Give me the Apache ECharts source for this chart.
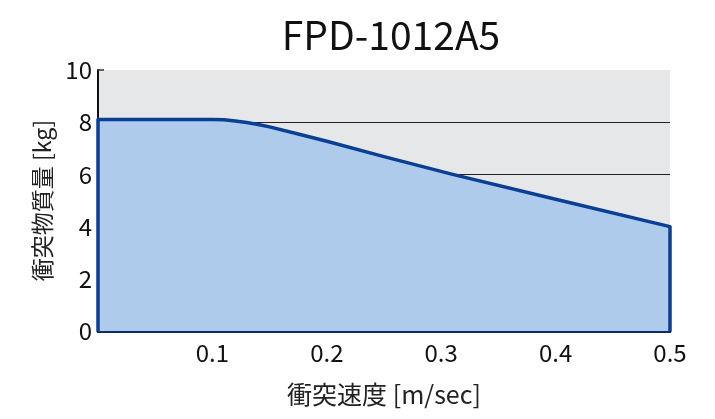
<!DOCTYPE html>
<html><head><meta charset="utf-8">
<script src="https://cdn.jsdelivr.net/npm/echarts@6/dist/echarts.min.js"></script>
<style>html,body{margin:0;padding:0;background:#fff}#c{width:715px;height:419px}</style>
</head><body><div id="c"></div>
<script>
const titleText = 'FPD-1012A5';
const xName = '衝突速度 [m/sec]';
const yName = '衝突物質量 [kg]';
const speed = [0, 0, 0.1, 0.11, 0.12, 0.13, 0.14, 0.15, 0.175, 0.2, 0.25, 0.31, 0.4, 0.5, 0.5];
const mass  = [0, 8.1, 8.1, 8.09, 8.05, 7.99, 7.91, 7.82, 7.55, 7.27, 6.68, 6.0, 5.05, 4.0, 0];
const FONT = '"Noto Sans CJK JP", "Noto Sans", sans-serif';
const chart = echarts.init(document.getElementById('c'));
chart.setOption({
  animation: false,
  title: { text: titleText, left: 386, top: 11, textAlign: 'center',
    textStyle: { fontFamily: FONT, fontSize: 39, fontWeight: 'normal', color: '#111' } },
  grid: { left: 98, right: 45, top: 70, bottom: 88, show: true, backgroundColor: '#e6e7e8', borderWidth: 0 },
  xAxis: {
    type: 'value', min: 0, max: 0.5, interval: 0.1,
    name: xName, nameLocation: 'middle', nameGap: 51,
    nameTextStyle: { fontFamily: FONT, fontSize: 25, color: '#222' },
    axisLine: { show: true, lineStyle: { color: '#0b2a6b', width: 3 } },
    axisTick: { show: true, inside: true, length: 6, lineStyle: { color: '#333', width: 1.5 } },
    axisLabel: { fontFamily: FONT, fontSize: 24, color: '#111', margin: 10,
      formatter: v => v === 0 ? '' : v.toFixed(1) },
    splitLine: { show: false }
  },
  yAxis: {
    type: 'value', min: 0, max: 10, interval: 2,
    name: yName, nameLocation: 'middle', nameGap: 44, nameRotate: 90,
    nameTextStyle: { fontFamily: FONT, fontSize: 23, color: '#222' },
    axisLine: { show: true, lineStyle: { color: '#111', width: 2 } },
    axisTick: { show: true, inside: true, length: 6, lineStyle: { color: '#333', width: 1.5 } },
    axisLabel: { fontFamily: FONT, fontSize: 24, color: '#111', margin: 6 },
    splitLine: { show: true, lineStyle: { color: ['transparent', '#222', '#222', '#222', '#222', 'transparent'], width: 1 } }
  },
  series: [{
    type: 'line',
    data: speed.map((s, i) => [s, mass[i]]),
    showSymbol: false,
    lineStyle: { color: '#0a3f96', width: 3.5, join: 'round' },
    areaStyle: { color: '#aecbec', opacity: 1 },
    z: 3
  }]
});
</script></body></html>
